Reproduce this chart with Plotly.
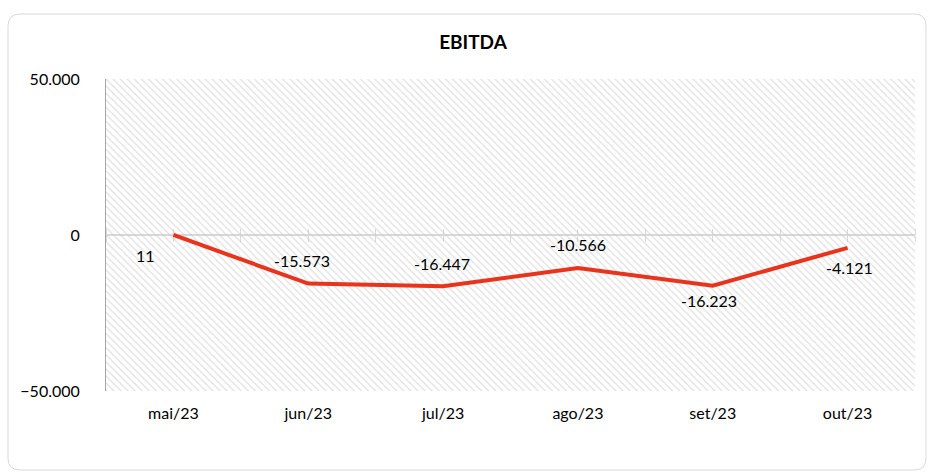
import plotly.graph_objects as go

categories = ["mai/23", "jun/23", "jul/23", "ago/23", "set/23", "out/23"]
ebitda = [11, -15573, -16447, -10566, -16223, -4121]
y_ticks = [-50000, 0, 50000]
y_range = [-50000, 50000]
# label offsets in pixels (dx, dy; dy positive = up)
label_dx = [-28, -6, -1, 0, -4, 2]
label_dy = [-21, 23, 23, 23, -15, -20]

FONT = "Lato"
LINE_COLOR = "#E8341C"

fig = go.Figure()

# hatched plot-area background spanning all categories
fig.add_trace(go.Bar(
    x=[categories[0]], y=[y_range[1] - y_range[0]], base=[y_range[0]],
    width=[len(categories)], offset=-0.5,
    marker=dict(color="rgba(0,0,0,0)", line=dict(width=0),
                pattern=dict(shape="\\", fgcolor="#c4c4c4", bgcolor="rgba(0,0,0,0)",
                             size=5, solidity=0.28)),
    hoverinfo="skip", showlegend=False,
))

fig.add_trace(go.Scatter(
    x=categories, y=ebitda, mode="lines",
    line=dict(color=LINE_COLOR, width=4),
    showlegend=False, hoverinfo="skip",
))

# empty traces to carry the zero-line tick axes
fig.add_trace(go.Scatter(x=[], y=[], xaxis="x2", showlegend=False, hoverinfo="skip"))
fig.add_trace(go.Scatter(x=[], y=[], xaxis="x3", showlegend=False, hoverinfo="skip"))

for c, v, dx, dy in zip(categories, ebitda, label_dx, label_dy):
    fig.add_annotation(x=c, y=v, text=f"{v:,}".replace(",", "."), showarrow=False,
                       xshift=dx, yshift=dy, font=dict(family=FONT, size=16, color="#000000"))

# outer rounded border in paper coords
W, H = 928, 473
ml, mr, mt, mb = 106, 13, 79, 82
pw, ph = W - ml - mr, H - mt - mb
def px(x): return (x - ml) / pw
def py(y): return (H - mb - y) / ph
x0, x1, y0, y1, r = 8, 926, 14, 470, 12
path = (f"M {px(x0+r)},{py(y0)} L {px(x1-r)},{py(y0)} Q {px(x1)},{py(y0)} {px(x1)},{py(y0+r)} "
        f"L {px(x1)},{py(y1-r)} Q {px(x1)},{py(y1)} {px(x1-r)},{py(y1)} "
        f"L {px(x0+r)},{py(y1)} Q {px(x0)},{py(y1)} {px(x0)},{py(y1-r)} "
        f"L {px(x0)},{py(y0+r)} Q {px(x0)},{py(y0)} {px(x0+r)},{py(y0)} Z")
fig.add_shape(type="path", path=path, xref="paper", yref="paper",
              line=dict(color="#d9d9d9", width=1), layer="below")

fig.update_layout(
    width=W, height=H,
    margin=dict(l=ml, r=mr, t=mt, b=mb),
    paper_bgcolor="white", plot_bgcolor="white",
    separators=",.",
    font=dict(family=FONT, size=16, color="#000000"),
    title=dict(text="<b>EBITDA</b>", x=473 / W, xanchor="center", xref="container",
               y=1 - 42 / H, yanchor="middle", yref="container",
               font=dict(family=FONT, size=19, color="#000000")),
    bargap=0,
    xaxis=dict(type="category", categoryorder="array", categoryarray=categories,
               range=[-0.5, len(categories) - 0.5], showgrid=False, zeroline=False,
               showline=False, ticks="", ticklabelstandoff=11,
               tickfont=dict(family=FONT, size=16, color="#000000"), fixedrange=True),
    xaxis2=dict(overlaying="x", anchor="free", position=0.5, side="bottom",
                type="linear", range=[-0.5, len(categories) - 0.5], tick0=-0.5, dtick=0.5,
                showticklabels=False, showgrid=False, zeroline=False,
                showline=True, linecolor="#d9d9d9", linewidth=2,
                ticks="outside", ticklen=6, tickwidth=1, tickcolor="#d9d9d9",
                layer="below traces"),
    xaxis3=dict(overlaying="x", anchor="free", position=0.5, side="top",
                type="linear", range=[-0.5, len(categories) - 0.5], tick0=-0.5, dtick=0.5,
                showticklabels=False, showgrid=False, zeroline=False, showline=False,
                ticks="outside", ticklen=6, tickwidth=1, tickcolor="#d9d9d9",
                layer="below traces"),
    yaxis=dict(range=y_range, tickmode="array", tickvals=y_ticks, tickformat=",",
               showgrid=False, zeroline=False, showline=True, linecolor="#a6a6a6",
               linewidth=1, ticks="", ticklabelstandoff=22,
               tickfont=dict(family=FONT, size=16, color="#000000"), fixedrange=True),
)

fig.write_html("out.html", config={"displayModeBar": False},
               post_script="document.body.style.margin='0';")
